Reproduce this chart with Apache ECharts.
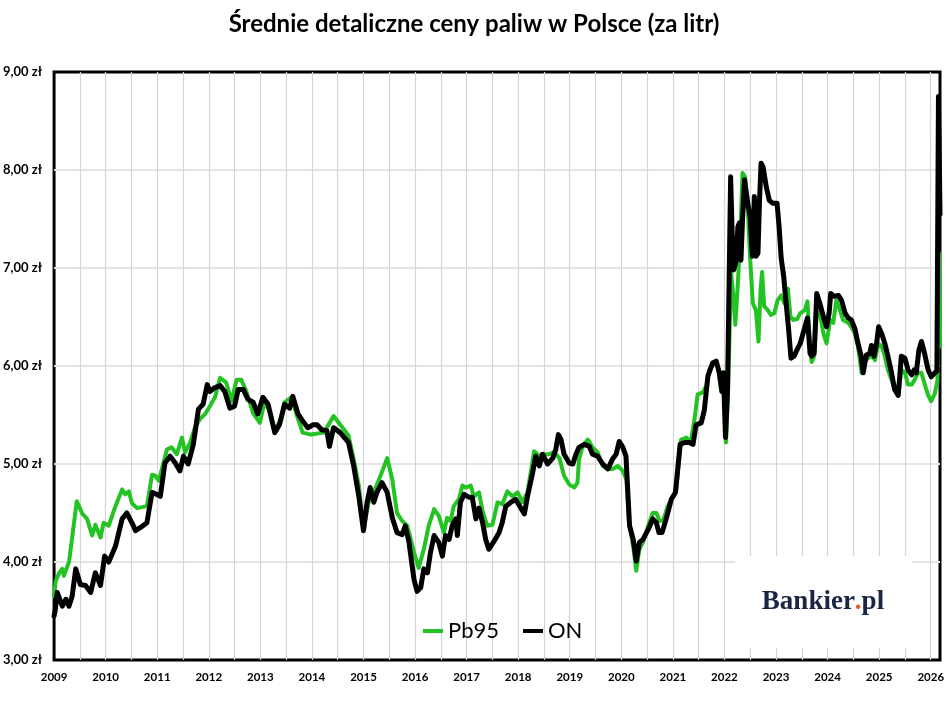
<!DOCTYPE html>
<html>
<head>
<meta charset="utf-8">
<title>Średnie detaliczne ceny paliw w Polsce</title>
<script src="https://cdn.jsdelivr.net/npm/echarts@6/dist/echarts.min.js"></script>
<style>
  html, body { margin: 0; padding: 0; background: #fff; }
  #chart { width: 948px; height: 720px; }
</style>
</head>
<body>
<div id="chart"></div>
<script>
// [rok (dziesiętnie), cena zł/l]
const pb95 = [
  [2009.00, 3.65], [2009.03, 3.80], [2009.10, 3.89], [2009.16, 3.93], [2009.19, 3.86], [2009.26, 3.96],
  [2009.29, 4.00], [2009.44, 4.62], [2009.55, 4.49], [2009.64, 4.44], [2009.74, 4.27], [2009.80, 4.38],
  [2009.90, 4.25], [2009.96, 4.40], [2010.06, 4.37], [2010.19, 4.57], [2010.32, 4.74], [2010.38, 4.69],
  [2010.45, 4.72], [2010.51, 4.60], [2010.61, 4.55], [2010.80, 4.57], [2010.90, 4.89], [2010.96, 4.88],
  [2011.03, 4.83], [2011.19, 5.15], [2011.28, 5.17], [2011.38, 5.10], [2011.48, 5.27], [2011.54, 5.12],
  [2011.64, 5.22], [2011.73, 5.37], [2011.83, 5.46], [2011.93, 5.51], [2012.02, 5.59], [2012.12, 5.68],
  [2012.22, 5.88], [2012.34, 5.83], [2012.44, 5.64], [2012.54, 5.86], [2012.63, 5.86], [2012.73, 5.74],
  [2012.86, 5.52], [2012.99, 5.42], [2013.08, 5.63], [2013.18, 5.54], [2013.28, 5.34], [2013.41, 5.47],
  [2013.47, 5.63], [2013.60, 5.68], [2013.73, 5.46], [2013.82, 5.32], [2013.98, 5.30], [2014.23, 5.32],
  [2014.42, 5.49], [2014.55, 5.40], [2014.71, 5.29], [2014.81, 5.05], [2014.91, 4.78], [2015.00, 4.33],
  [2015.10, 4.61], [2015.20, 4.71], [2015.33, 4.88], [2015.46, 5.06], [2015.56, 4.84], [2015.65, 4.50],
  [2015.75, 4.42], [2015.85, 4.37], [2015.98, 4.10], [2016.07, 3.94], [2016.17, 4.13], [2016.27, 4.38],
  [2016.37, 4.54], [2016.46, 4.47], [2016.56, 4.30], [2016.62, 4.45], [2016.69, 4.42], [2016.75, 4.57],
  [2016.85, 4.64], [2016.92, 4.78], [2016.98, 4.76], [2017.08, 4.78], [2017.14, 4.67], [2017.24, 4.71],
  [2017.31, 4.52], [2017.40, 4.37], [2017.50, 4.38], [2017.60, 4.61], [2017.69, 4.59], [2017.79, 4.72],
  [2017.89, 4.67], [2017.99, 4.71], [2018.08, 4.61], [2018.18, 4.71], [2018.31, 5.13], [2018.41, 5.08],
  [2018.50, 5.10], [2018.60, 5.10], [2018.70, 5.12], [2018.80, 5.06], [2018.89, 4.88], [2018.99, 4.79],
  [2019.09, 4.76], [2019.15, 4.81], [2019.18, 5.05], [2019.25, 5.18], [2019.35, 5.25], [2019.44, 5.17],
  [2019.54, 5.12], [2019.64, 4.98], [2019.74, 4.95], [2019.83, 4.95], [2019.93, 4.98], [2020.03, 4.93],
  [2020.10, 4.84], [2020.15, 4.40], [2020.23, 4.16], [2020.29, 3.91], [2020.35, 4.13], [2020.42, 4.20],
  [2020.52, 4.37], [2020.61, 4.50], [2020.68, 4.50], [2020.74, 4.42], [2020.81, 4.42], [2020.90, 4.57],
  [2021.00, 4.67], [2021.06, 4.72], [2021.16, 5.25], [2021.26, 5.27], [2021.35, 5.23], [2021.42, 5.46],
  [2021.48, 5.71], [2021.58, 5.73], [2021.65, 5.80], [2021.71, 5.97], [2021.81, 6.03], [2021.87, 6.00],
  [2021.94, 5.74], [2021.98, 5.93], [2022.03, 5.22], [2022.07, 5.75], [2022.13, 6.95], [2022.18, 6.67],
  [2022.21, 6.42], [2022.26, 6.84], [2022.31, 7.35], [2022.35, 7.97], [2022.40, 7.93], [2022.45, 7.63],
  [2022.50, 7.08], [2022.55, 6.64], [2022.61, 6.57], [2022.66, 6.25], [2022.70, 6.78], [2022.73, 6.96],
  [2022.77, 6.61], [2022.84, 6.57], [2022.90, 6.52], [2022.97, 6.54], [2023.03, 6.67], [2023.10, 6.72],
  [2023.16, 6.64], [2023.23, 6.79], [2023.28, 6.50], [2023.34, 6.47], [2023.41, 6.48], [2023.47, 6.54],
  [2023.56, 6.57], [2023.61, 6.66], [2023.66, 6.20], [2023.69, 6.04], [2023.74, 6.10], [2023.79, 6.54],
  [2023.85, 6.54], [2023.92, 6.33], [2023.98, 6.23], [2024.05, 6.47], [2024.11, 6.44], [2024.17, 6.67],
  [2024.24, 6.57], [2024.30, 6.47], [2024.40, 6.44], [2024.46, 6.40], [2024.53, 6.33], [2024.59, 6.20],
  [2024.66, 5.93], [2024.72, 6.06], [2024.79, 6.08], [2024.85, 6.11], [2024.92, 6.06], [2024.98, 6.23],
  [2025.05, 6.20], [2025.11, 6.10], [2025.17, 5.96], [2025.24, 5.86], [2025.30, 5.76], [2025.37, 5.70],
  [2025.43, 5.96], [2025.50, 5.93], [2025.56, 5.81], [2025.63, 5.81], [2025.69, 5.86], [2025.75, 5.93],
  [2025.82, 5.93], [2025.88, 5.82], [2025.95, 5.70], [2026.01, 5.64], [2026.08, 5.72], [2026.13, 5.85],
  [2026.16, 7.15], [2026.18, 6.20]
];

const on = [
  [2009.00, 3.45], [2009.02, 3.50], [2009.06, 3.69], [2009.16, 3.55], [2009.23, 3.62], [2009.29, 3.55],
  [2009.35, 3.65], [2009.42, 3.93], [2009.51, 3.77], [2009.61, 3.76], [2009.71, 3.69], [2009.80, 3.89],
  [2009.90, 3.76], [2009.98, 4.06], [2010.06, 4.00], [2010.19, 4.16], [2010.32, 4.44], [2010.41, 4.50],
  [2010.51, 4.40], [2010.58, 4.32], [2010.67, 4.35], [2010.80, 4.40], [2010.90, 4.71], [2010.99, 4.69],
  [2011.06, 4.67], [2011.15, 5.01], [2011.25, 5.08], [2011.35, 5.01], [2011.44, 4.93], [2011.51, 5.08],
  [2011.60, 5.00], [2011.70, 5.20], [2011.80, 5.56], [2011.89, 5.61], [2011.97, 5.81], [2012.02, 5.74],
  [2012.12, 5.78], [2012.22, 5.80], [2012.31, 5.74], [2012.41, 5.57], [2012.50, 5.59], [2012.57, 5.76],
  [2012.67, 5.76], [2012.76, 5.66], [2012.86, 5.63], [2012.95, 5.51], [2013.05, 5.68], [2013.15, 5.61],
  [2013.28, 5.32], [2013.37, 5.40], [2013.47, 5.61], [2013.57, 5.57], [2013.63, 5.69], [2013.73, 5.51],
  [2013.82, 5.44], [2013.92, 5.37], [2014.02, 5.40], [2014.10, 5.40], [2014.19, 5.35], [2014.29, 5.34],
  [2014.34, 5.18], [2014.42, 5.37], [2014.55, 5.32], [2014.71, 5.22], [2014.81, 4.98], [2014.91, 4.67],
  [2015.00, 4.32], [2015.07, 4.61], [2015.13, 4.76], [2015.20, 4.61], [2015.26, 4.71], [2015.36, 4.81],
  [2015.46, 4.71], [2015.56, 4.45], [2015.65, 4.30], [2015.75, 4.28], [2015.81, 4.37], [2015.88, 4.21],
  [2015.98, 3.82], [2016.04, 3.70], [2016.11, 3.74], [2016.17, 3.93], [2016.24, 3.89], [2016.30, 4.10],
  [2016.37, 4.27], [2016.46, 4.20], [2016.53, 4.06], [2016.59, 4.27], [2016.66, 4.23], [2016.72, 4.37],
  [2016.79, 4.44], [2016.82, 4.27], [2016.88, 4.61], [2016.95, 4.69], [2017.05, 4.66], [2017.11, 4.66],
  [2017.18, 4.44], [2017.24, 4.55], [2017.31, 4.40], [2017.37, 4.23], [2017.43, 4.13], [2017.53, 4.21],
  [2017.63, 4.30], [2017.69, 4.40], [2017.76, 4.57], [2017.86, 4.61], [2017.95, 4.64], [2018.05, 4.55],
  [2018.12, 4.49], [2018.18, 4.67], [2018.28, 4.91], [2018.34, 5.08], [2018.41, 4.98], [2018.47, 5.10],
  [2018.57, 5.00], [2018.67, 5.06], [2018.73, 5.15], [2018.78, 5.30], [2018.83, 5.25], [2018.89, 5.10],
  [2018.99, 5.01], [2019.06, 5.00], [2019.12, 5.10], [2019.18, 5.17], [2019.28, 5.20], [2019.38, 5.18],
  [2019.44, 5.10], [2019.54, 5.08], [2019.64, 5.00], [2019.74, 4.95], [2019.83, 5.05], [2019.90, 5.10],
  [2019.96, 5.23], [2020.03, 5.17], [2020.09, 5.08], [2020.16, 4.37], [2020.23, 4.23], [2020.29, 4.01],
  [2020.35, 4.20], [2020.42, 4.23], [2020.52, 4.33], [2020.61, 4.44], [2020.68, 4.40], [2020.73, 4.30],
  [2020.79, 4.30], [2020.87, 4.44], [2020.97, 4.64], [2021.05, 4.71], [2021.14, 5.20], [2021.23, 5.22],
  [2021.32, 5.22], [2021.39, 5.20], [2021.45, 5.40], [2021.55, 5.42], [2021.61, 5.55], [2021.68, 5.90],
  [2021.77, 6.03], [2021.84, 6.05], [2021.90, 5.93], [2021.95, 5.74], [2021.98, 5.93], [2022.02, 5.27],
  [2022.06, 5.76], [2022.12, 7.93], [2022.15, 7.35], [2022.18, 6.98], [2022.23, 7.08], [2022.26, 7.42],
  [2022.29, 7.46], [2022.32, 7.08], [2022.35, 7.49], [2022.39, 7.90], [2022.42, 7.90], [2022.46, 7.63],
  [2022.50, 7.52], [2022.54, 7.12], [2022.58, 7.73], [2022.61, 7.12], [2022.65, 7.15], [2022.68, 7.69],
  [2022.71, 8.07], [2022.75, 8.03], [2022.81, 7.83], [2022.87, 7.69], [2022.94, 7.66], [2023.02, 7.66],
  [2023.06, 7.42], [2023.10, 7.10], [2023.15, 6.91], [2023.19, 6.67], [2023.24, 6.40], [2023.29, 6.08],
  [2023.35, 6.10], [2023.42, 6.18], [2023.47, 6.23], [2023.56, 6.40], [2023.61, 6.49], [2023.66, 6.13],
  [2023.69, 6.10], [2023.74, 6.13], [2023.79, 6.74], [2023.85, 6.64], [2023.92, 6.50], [2023.98, 6.40],
  [2024.03, 6.54], [2024.06, 6.74], [2024.13, 6.71], [2024.21, 6.72], [2024.27, 6.67], [2024.34, 6.54],
  [2024.40, 6.49], [2024.46, 6.47], [2024.53, 6.38], [2024.59, 6.23], [2024.65, 6.10], [2024.69, 5.93],
  [2024.75, 6.11], [2024.82, 6.13], [2024.85, 6.21], [2024.90, 6.10], [2024.95, 6.23], [2024.99, 6.40],
  [2025.05, 6.33], [2025.11, 6.23], [2025.17, 6.10], [2025.24, 5.93], [2025.30, 5.76], [2025.37, 5.70],
  [2025.43, 6.10], [2025.50, 6.08], [2025.56, 5.96], [2025.63, 5.91], [2025.68, 5.96], [2025.72, 5.93],
  [2025.77, 6.16], [2025.82, 6.25], [2025.88, 6.13], [2025.95, 5.96], [2026.01, 5.89], [2026.08, 5.93],
  [2026.12, 5.95], [2026.15, 8.75], [2026.18, 7.55]
];

const yearMin = 2009;
const yearMax = 2026.18;
const priceMin = 3;
const priceMax = 9;

const myChart = echarts.init(document.getElementById('chart'));

const option = {
  animation: false,
  backgroundColor: '#fff',
  textStyle: { fontFamily: 'Lato' },
  title: {
    text: 'Średnie detaliczne ceny paliw w Polsce (za litr)',
    left: 'center',
    top: 7,
    textStyle: { fontSize: 24, fontWeight: 'bold', color: '#000', fontFamily: 'Lato' }
  },
  legend: {
    left: 418,
    top: 615,
    icon: 'rect',
    itemWidth: 20,
    itemHeight: 4,
    itemGap: 24,
    textStyle: { fontSize: 22, color: '#000', fontFamily: 'Lato' },
    data: ['Pb95', 'ON']
  },
  grid: {
    left: 53,
    right: 8,
    top: 72,
    bottom: 60,
    show: true,
    borderColor: '#000',
    borderWidth: 3,
    containLabel: false
  },
  xAxis: {
    type: 'value',
    min: yearMin,
    max: yearMax,
    interval: 0.5,
    axisLine: { show: false },
    axisTick: { show: false },
    axisLabel: {
      margin: 11,
      fontSize: 11.5,
      fontWeight: 'bold',
      color: '#000',
      formatter: v => (Math.abs(v - Math.round(v)) < 1e-6 ? String(Math.round(v)) : '')
    },
    splitLine: {
      show: true,
      showMinLine: false,
      showMaxLine: false,
      lineStyle: { color: '#d6d6d6', width: 1.2 }
    }
  },
  yAxis: {
    type: 'value',
    min: priceMin,
    max: priceMax,
    interval: 1,
    axisLine: { show: false },
    axisTick: { show: false },
    axisLabel: {
      margin: 12,
      fontSize: 13,
      fontWeight: 'bold',
      color: '#000',
      formatter: v => v.toFixed(2).replace('.', ',') + ' zł'
    },
    splitLine: {
      show: true,
      showMinLine: false,
      showMaxLine: false,
      lineStyle: { color: '#e4e4e4', width: 2 }
    }
  },
  graphic: [
    {
      type: 'rect',
      z: 10,
      shape: { x: 735, y: 556, width: 177, height: 92 },
      style: { fill: '#fff' }
    },
    {
      type: 'text',
      z: 11,
      x: 823,
      y: 602,
      style: {
        text: '{a|Bankier}{b|.}{a|pl}',
        align: 'center',
        verticalAlign: 'middle',
        rich: {
          a: { fontFamily: 'Liberation Serif', fontWeight: 'bold', fontSize: 27, fill: '#1b2545' },
          b: { fontFamily: 'Liberation Serif', fontWeight: 'bold', fontSize: 27, fill: '#e4572e' }
        }
      }
    }
  ],
  series: [
    {
      name: 'Pb95',
      type: 'line',
      data: pb95,
      showSymbol: false,
      symbol: 'none',
      smooth: false,
      color: '#22c322',
      lineStyle: { color: '#22c322', width: 4, cap: 'round', join: 'round' }
    },
    {
      name: 'ON',
      type: 'line',
      data: on,
      showSymbol: false,
      symbol: 'none',
      smooth: false,
      color: '#000',
      lineStyle: { color: '#000', width: 5, cap: 'round', join: 'round' }
    }
  ]
};

myChart.setOption(option);
</script>
</body>
</html>
